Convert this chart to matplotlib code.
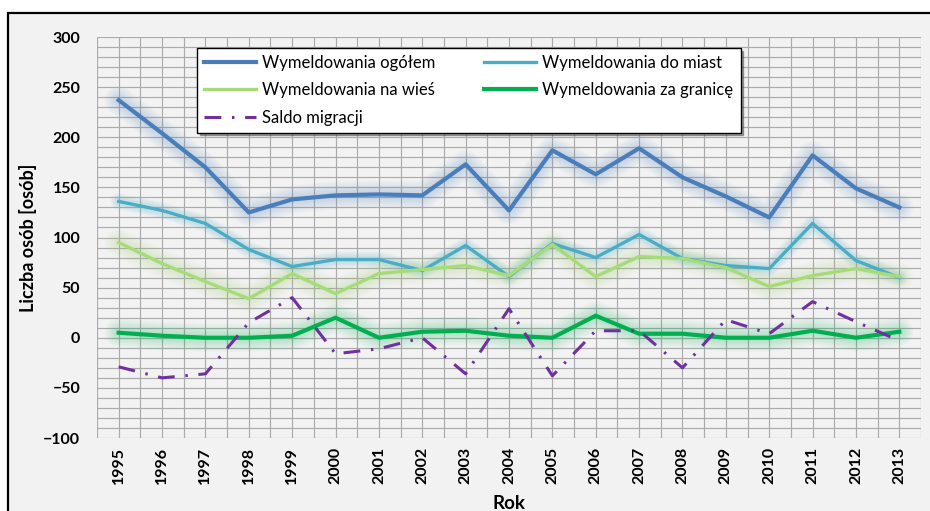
import numpy as np
import matplotlib
matplotlib.use('Agg')
import matplotlib.pyplot as plt
from matplotlib.patches import Rectangle
from matplotlib.ticker import MultipleLocator, FixedLocator

years = ['1995', '1996', '1997', '1998', '1999', '2000', '2001', '2002', '2003', '2004',
         '2005', '2006', '2007', '2008', '2009', '2010', '2011', '2012', '2013']
ogolem = [237, 204, 170, 125, 138, 142, 143, 142, 173, 127, 187, 163, 189, 160, 141, 120, 182, 149, 130]
do_miast = [136, 127, 114, 88, 71, 78, 78, 67, 92, 61, 94, 80, 103, 79, 72, 69, 114, 77, 60]
na_wies = [95, 74, 56, 39, 64, 44, 64, 68, 72, 62, 93, 61, 81, 79, 70, 51, 62, 69, 61]
za_granice = [5, 2, 0, 0, 2, 20, 0, 6, 7, 2, 0, 22, 4, 4, 0, 0, 7, 0, 6]
saldo = [-29, -40, -36, 15, 40, -16, -11, 0, -36, 29, -38, 7, 7, -30, 18, 4, 36, 16, -3]

plt.rcParams['font.family'] = ['Lato', 'DejaVu Sans']

fig = plt.figure(figsize=(9.3, 5.11), dpi=100, facecolor='white')
fig.patches.append(Rectangle((8 / 930, -0.1), 1.2, 1.1 - 13 / 511, transform=fig.transFigure,
                             facecolor='#f2f2f2', edgecolor='black', lw=1.6, zorder=-5))
ax = fig.add_axes([97 / 930, 1 - 438 / 511, 824 / 930, 401 / 511])
ax.set_facecolor('#f2f2f2')

x = np.arange(len(years))


def glow(yv, color, width=20):
    for w in np.linspace(width, 5, 6):
        ax.plot(x, yv, color=color, lw=w, alpha=0.045, solid_joinstyle='round',
                solid_capstyle='round', zorder=2)


glow(ogolem, '#4f81bd')
glow(do_miast, '#4bacc6', 12)
glow(na_wies, '#9bd068')
glow(za_granice, '#00b050')

l1, = ax.plot(x, ogolem, color='#4a7ebb', lw=3.0, label='Wymeldowania ogółem', zorder=5)
l2, = ax.plot(x, do_miast, color='#4bacc6', lw=2.4, label='Wymeldowania do miast', zorder=4)
l3, = ax.plot(x, na_wies, color='#a6dc78', lw=2.4, label='Wymeldowania na wieś', zorder=4)
l4, = ax.plot(x, za_granice, color='#00b050', lw=3.0, label='Wymeldowania za granicę', zorder=5)
l5, = ax.plot(x, saldo, color='#7030a0', lw=2.2, dashes=(5.5, 3.5, 0.8, 3.5), label='Saldo migracji', zorder=6)

ax.set_xlim(-0.5, len(years) - 0.5)
ax.set_ylim(-100, 300)
ax.xaxis.set_major_locator(FixedLocator(x))
ax.xaxis.set_minor_locator(FixedLocator(np.arange(-0.5, len(years), 1.0)))
ax.set_xticklabels(years, rotation=90, fontsize=11.5, fontweight='bold')
ax.yaxis.set_major_locator(MultipleLocator(50))
ax.yaxis.set_minor_locator(MultipleLocator(10))
for lab in ax.get_yticklabels():
    lab.set_fontsize(11.5)
    lab.set_fontweight('bold')
ax.tick_params(which='both', length=0)
ax.tick_params(axis='y', pad=12)
ax.tick_params(axis='x', pad=6.5)
ax.grid(True, which='both', color='#ababab', lw=0.85)
ax.set_axisbelow(True)
for s in ax.spines.values():
    s.set_visible(False)

ax.set_ylabel('Liczba osób [osób]', fontsize=13, fontweight='bold')
ax.yaxis.set_label_coords(-60 / 824, 0.5)
ax.set_xlabel('Rok', fontsize=13.5, fontweight='bold')
ax.xaxis.set_label_coords(0.5, -57 / 401)

leg = ax.legend(handles=[l1, l3, l5, l2, l4], ncol=2, loc='upper left',
                bbox_to_anchor=(100 / 824, 1 - 11 / 401), borderaxespad=0,
                fontsize=12, frameon=True, fancybox=False, shadow=True,
                edgecolor='black', framealpha=1, handlelength=3.1,
                labelspacing=0.68, columnspacing=2.9, handletextpad=0.4,
                borderpad=0.42)
leg.get_frame().set_linewidth(1.0)

fig.savefig('out.png', dpi=100, facecolor=fig.get_facecolor())
